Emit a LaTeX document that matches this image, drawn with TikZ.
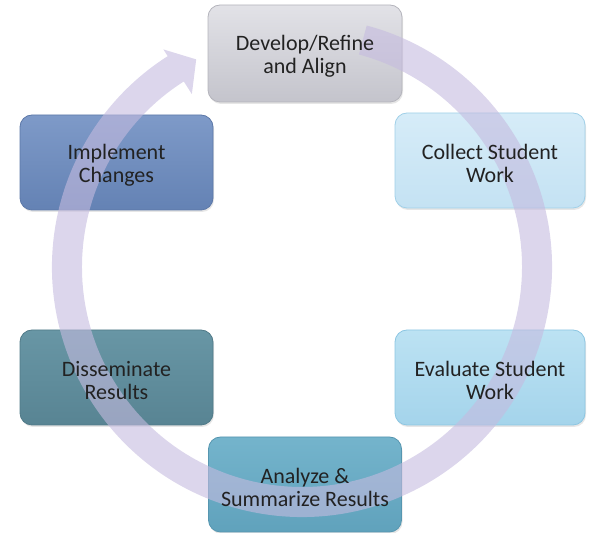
\documentclass[tikz,border=0pt]{standalone}
\usepackage{fontspec}
\setmainfont{Carlito}
\usetikzlibrary{shadows}
\definecolor{txt}{RGB}{34,34,34}
\definecolor{ringc}{RGB}{197,187,223}
\definecolor{topA}{RGB}{226,226,231}\definecolor{topB}{RGB}{196,196,204}\definecolor{topD}{RGB}{180,180,188}
\definecolor{impA}{RGB}{126,154,200}\definecolor{impB}{RGB}{100,130,180}\definecolor{impD}{RGB}{92,120,168}
\definecolor{colA}{RGB}{214,236,248}\definecolor{colB}{RGB}{196,226,243}\definecolor{colD}{RGB}{160,208,232}
\definecolor{disA}{RGB}{104,150,165}\definecolor{disB}{RGB}{88,132,147}\definecolor{disD}{RGB}{80,122,136}
\definecolor{anaA}{RGB}{116,180,204}\definecolor{anaB}{RGB}{96,162,188}\definecolor{anaD}{RGB}{86,150,176}
\definecolor{evaA}{RGB}{188,226,243}\definecolor{evaB}{RGB}{164,212,235}\definecolor{evaD}{RGB}{140,198,226}
\tikzset{
  stagebox/.style={rectangle, rounded corners=12pt, minimum width=193pt, minimum height=95pt,
    line width=0.8pt,
    drop shadow={shadow xshift=1pt, shadow yshift=-2pt, opacity=0.2}},
  boxcol/.style={top color=#1A, bottom color=#1B, draw=#1D},
  stagetext/.style={align=center, text=txt, font=\fontsize{22}{23}\selectfont}
}
\begin{document}
\begin{tikzpicture}[x=1pt,y=1pt]
\useasboundingbox (0,0) rectangle (590,533);
\node[stagebox, boxcol=top, minimum width=194pt, minimum height=97pt] (dev) at (305,479.5) {};
\node[stagebox, boxcol=imp] (imp) at (116.5,370.5) {};
\node[stagebox, boxcol=col, minimum width=190pt] (col) at (490,372.5) {};
\node[stagebox, boxcol=dis] (dis) at (116.5,155.5) {};
\node[stagebox, boxcol=ana] (ana) at (305,48.5) {};
\node[stagebox, boxcol=eva, minimum width=190pt] (eva) at (490,155.5) {};
\coordinate (ctr) at (302,266);
\begin{scope}[shift={(ctr)}]
\fill[ringc, opacity=0.6]
  (75:250pt) arc[start angle=75, end angle=-237.5, radius=250pt]
  -- (-237.5:258pt) -- (-243:233pt) -- (-237.5:205pt) -- (-237.5:220pt)
  arc[start angle=-237.5, end angle=75, radius=220pt] -- cycle;
\end{scope}
\node[stagetext] (devt) at ([yshift=-3pt]dev.center) {Develop/Refine\\and Align};
\node[stagetext] (impt) at ([yshift=-3pt]imp.center) {Implement\\Changes};
\node[stagetext] (colt) at ([yshift=-3pt]col.center) {Collect Student\\Work};
\node[stagetext] (dist) at ([yshift=-3pt]dis.center) {Disseminate\\Results};
\node[stagetext] (anat) at ([yshift=-3pt]ana.center) {Analyze \&\\Summarize Results};
\node[stagetext] (evat) at ([yshift=-3pt]eva.center) {Evaluate Student\\Work};
\end{tikzpicture}
\end{document}
